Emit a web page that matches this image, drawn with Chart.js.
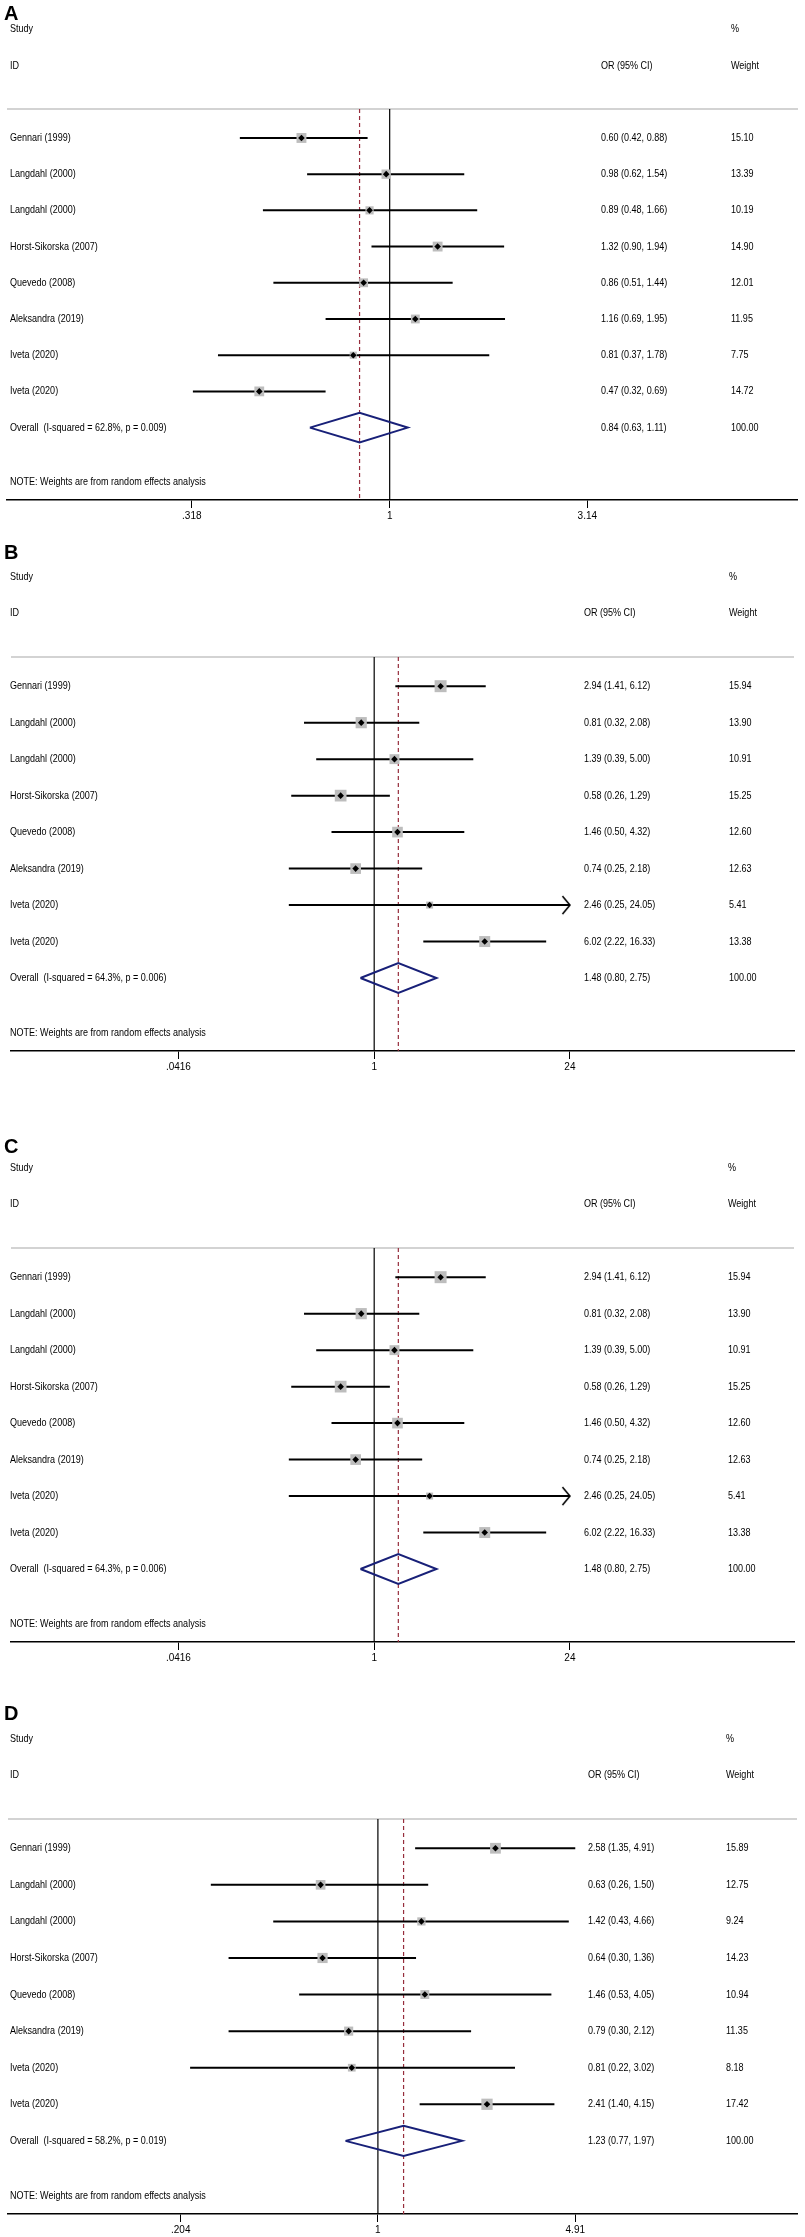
<!DOCTYPE html>
<html><head><meta charset="utf-8">
<script src="https://cdn.jsdelivr.net/npm/chart.js@4.4.1/dist/chart.umd.min.js"></script>
<style>
html,body{margin:0;padding:0;background:#fff;}
body{width:805px;height:2237px;position:relative;overflow:hidden;}
canvas{position:absolute;left:0;}
</style></head><body>
<canvas id="cA"></canvas>
<canvas id="cB"></canvas>
<canvas id="cC"></canvas>
<canvas id="cD"></canvas>
<script>
// ---------------- DATA ----------------
const studies = ["Gennari (1999)","Langdahl (2000)","Langdahl (2000)","Horst-Sikorska (2007)","Quevedo (2008)","Aleksandra (2019)","Iveta (2020)","Iveta (2020)"];

const A_or  = [0.60,0.98,0.89,1.32,0.86,1.16,0.81,0.47];
const A_lo  = [0.42,0.62,0.48,0.90,0.51,0.69,0.37,0.32];
const A_hi  = [0.88,1.54,1.66,1.94,1.44,1.95,1.78,0.69];
const A_wt  = [15.10,13.39,10.19,14.90,12.01,11.95,7.75,14.72];
const A_overall = [0.84,0.63,1.11];
const A_het = ["62.8%","0.009"];
const A_ticks = [0.318,1,3.14];
const A_tickLabels = [".318","1","3.14"];

const B_or  = [2.94,0.81,1.39,0.58,1.46,0.74,2.46,6.02];
const B_lo  = [1.41,0.32,0.39,0.26,0.50,0.25,0.25,2.22];
const B_hi  = [6.12,2.08,5.00,1.29,4.32,2.18,24.05,16.33];
const B_wt  = [15.94,13.90,10.91,15.25,12.60,12.63,5.41,13.38];
const B_overall = [1.48,0.80,2.75];
const B_het = ["64.3%","0.006"];
const B_ticks = [0.0416,1,24];
const B_tickLabels = [".0416","1","24"];

const C_or  = [2.94,0.81,1.39,0.58,1.46,0.74,2.46,6.02];
const C_lo  = [1.41,0.32,0.39,0.26,0.50,0.25,0.25,2.22];
const C_hi  = [6.12,2.08,5.00,1.29,4.32,2.18,24.05,16.33];
const C_wt  = [15.94,13.90,10.91,15.25,12.60,12.63,5.41,13.38];
const C_overall = [1.48,0.80,2.75];
const C_het = ["64.3%","0.006"];
const C_ticks = [0.0416,1,24];
const C_tickLabels = [".0416","1","24"];

const D_or  = [2.58,0.63,1.42,0.64,1.46,0.79,0.81,2.41];
const D_lo  = [1.35,0.26,0.43,0.30,0.53,0.30,0.22,1.40];
const D_hi  = [4.91,1.50,4.66,1.36,4.05,2.12,3.02,4.15];
const D_wt  = [15.89,12.75,9.24,14.23,10.94,11.35,8.18,17.42];
const D_overall = [1.23,0.77,1.97];
const D_het = ["58.2%","0.019"];
const D_ticks = [0.204,1,4.91];
const D_tickLabels = [".204","1","4.91"];

// ---------------- LAYOUT (pixels / styles) ----------------
const FONT = "'Liberation Sans',Arial,Helvetica,sans-serif";
const NARROW = 0.82;   // horizontal condensation to mimic a narrow sans
const layout = {
  A:{top:0,   h:530, padTop:109, padBottom:10, one:391, span:200.5, orX:601, wX:731, letterY:14, box:2.55},
  B:{top:530, h:590, padTop:127, padBottom:49, one:375, span:200.5, orX:584, wX:729, letterY:23, box:3.0},
  C:{top:1120,h:570, padTop:128, padBottom:28, one:375, span:200.5, orX:584, wX:728, letterY:27, box:3.0},
  D:{top:1690,h:547, padTop:129, padBottom:3,  one:379, span:200.5, orX:588, wX:726, letterY:24, box:2.7}
};
const panels = {
  A:{or:A_or,lo:A_lo,hi:A_hi,wt:A_wt,overall:A_overall,het:A_het,ticks:A_ticks,tickLabels:A_tickLabels},
  B:{or:B_or,lo:B_lo,hi:B_hi,wt:B_wt,overall:B_overall,het:B_het,ticks:B_ticks,tickLabels:B_tickLabels},
  C:{or:C_or,lo:C_lo,hi:C_hi,wt:C_wt,overall:C_overall,het:C_het,ticks:C_ticks,tickLabels:C_tickLabels},
  D:{or:D_or,lo:D_lo,hi:D_hi,wt:D_wt,overall:D_overall,het:D_het,ticks:D_ticks,tickLabels:D_tickLabels}
};

// chevron arrow marker
const chevron = document.createElement('canvas');
chevron.width = 20; chevron.height = 22;
(function(){
  const c = chevron.getContext('2d');
  c.strokeStyle = '#000'; c.lineWidth = 1.6; c.lineJoin='miter';
  c.beginPath(); c.moveTo(10-7.5, 11-9); c.lineTo(10, 11); c.lineTo(10-7.5, 11+9); c.stroke();
})();

const fmt = v => v.toFixed(2);
const PLOT_L = 3, PLOT_R = 805;
const ROW_OVERALL = 8, Y_TOP = -0.8, Y_BOTTOM = 10;

function makePanel(key){
  const P = panels[key], L = layout[key];
  const cv = document.getElementById('c'+key);
  cv.width = 805; cv.height = L.h;
  cv.style.top = L.top+'px'; cv.style.width='805px'; cv.style.height=L.h+'px';
  const tLo = P.ticks[0], tHi = P.ticks[P.ticks.length-1];
  const unit = 2*L.span/Math.log(tHi/tLo);
  const xmin = Math.exp(-(L.one-PLOT_L)/unit);
  const xmax = Math.exp((PLOT_R-L.one)/unit);
  const n = studies.length;

  const datasets = [];
  datasets.push({data:[{x:xmin,y:Y_TOP},{x:xmax,y:Y_TOP}], showLine:true, borderColor:'#c4c4c4', borderWidth:1.5, pointRadius:0, clip:false, order:10});
  datasets.push({data:[{x:1,y:Y_TOP},{x:1,y:Y_BOTTOM}], showLine:true, borderColor:'#000', borderWidth:1.2, pointRadius:0, clip:false, order:9});
  datasets.push({data:[{x:P.overall[0],y:Y_TOP},{x:P.overall[0],y:Y_BOTTOM}], showLine:true, borderColor:'rgb(150,45,60)', borderDash:[4,3], borderWidth:1.2, pointRadius:0, clip:false, order:8});
  for(let i=0;i<n;i++){
    datasets.push({data:[{x:P.lo[i],y:i},{x:Math.min(P.hi[i],tHi),y:i}], showLine:true, borderColor:'#000', borderWidth:2, pointRadius:0, order:7});
  }
  datasets.push({data:P.or.map((v,i)=>({x:v,y:i})), showLine:false, pointStyle:'rect',
    pointRadius: ctx => L.box*Math.sqrt(P.wt[ctx.dataIndex])/Math.SQRT2,
    backgroundColor:'#bdbdbd', borderWidth:0, order:6});
  datasets.push({data:P.or.map((v,i)=>({x:v,y:i})), showLine:false, pointStyle:'rectRot', pointRadius:3.3,
    backgroundColor:'#000', borderWidth:0, order:5});
  const o = P.overall;
  datasets.push({data:[{x:o[1],y:ROW_OVERALL},{x:o[0],y:ROW_OVERALL-0.41},{x:o[2],y:ROW_OVERALL},{x:o[0],y:ROW_OVERALL+0.41},{x:o[1],y:ROW_OVERALL}],
    showLine:true, borderColor:'rgb(24,32,120)', borderWidth:2, pointRadius:0, tension:0, borderJoinStyle:'miter', order:4});
  const arrows = [];
  for(let i=0;i<n;i++){ if(P.hi[i]>tHi) arrows.push({x:tHi,y:i}); }
  datasets.push({data:arrows, showLine:false, pointStyle:chevron, pointRadius:10, order:3});

  const textPlugin = {
    id:'forestText',
    afterDraw(chart){
      const ctx = chart.ctx, ys = chart.scales.y;
      const y = v => ys.getPixelForValue(v);
      const txt = (s, x, yy) => { ctx.save(); ctx.translate(x, yy); ctx.scale(NARROW, 1); ctx.fillText(s, 0, 0); ctx.restore(); };
      ctx.save();
      ctx.fillStyle='#000'; ctx.textBaseline='middle'; ctx.textAlign='left';
      ctx.font = 'bold 20px '+FONT;
      ctx.fillText(key, 4, L.letterY);
      ctx.font = '11px '+FONT;
      txt('Study',10,y(-3));
      txt('ID',10,y(-2));
      txt('OR (95% CI)',L.orX,y(-2));
      txt('%',L.wX,y(-3));
      txt('Weight',L.wX,y(-2));
      for(let i=0;i<n;i++){
        txt(studies[i],10,y(i));
        txt(fmt(P.or[i])+' ('+fmt(P.lo[i])+', '+fmt(P.hi[i])+')',L.orX,y(i));
        txt(fmt(P.wt[i]),L.wX,y(i));
      }
      txt('Overall  (I-squared = '+P.het[0]+', p = '+P.het[1]+')',10,y(ROW_OVERALL));
      txt(fmt(o[0])+' ('+fmt(o[1])+', '+fmt(o[2])+')',L.orX,y(ROW_OVERALL));
      txt('100.00',L.wX,y(ROW_OVERALL));
      txt('NOTE: Weights are from random effects analysis',10,y(9.5));
      ctx.restore();
    }
  };

  new Chart(cv,{
    type:'scatter',
    data:{datasets},
    options:{
      responsive:false, animation:false, events:[],
      layout:{padding:{top:L.padTop,bottom:L.padBottom,left:PLOT_L,right:805-PLOT_R}},
      plugins:{legend:{display:false},tooltip:{enabled:false}},
      scales:{
        x:{type:'logarithmic',min:xmin,max:xmax,
          afterBuildTicks:s=>{ s.ticks = P.ticks.map(v=>({value:v})); },
          afterFit:s=>{ s.height = 20; },
          ticks:{callback:(v,i)=>P.tickLabels[i], font:{family:FONT,size:10}, color:'#000', padding:2, maxRotation:0, autoSkip:false},
          grid:{drawOnChartArea:false, drawTicks:true, tickLength:8, color:'#000', lineWidth:1},
          border:{display:true,color:'#000',width:1.5}
        },
        y:{type:'linear',display:false,min:Y_TOP,max:Y_BOTTOM,reverse:true}
      }
    },
    plugins:[textPlugin]
  });
}
['A','B','C','D'].forEach(makePanel);
</script>
</body></html>
